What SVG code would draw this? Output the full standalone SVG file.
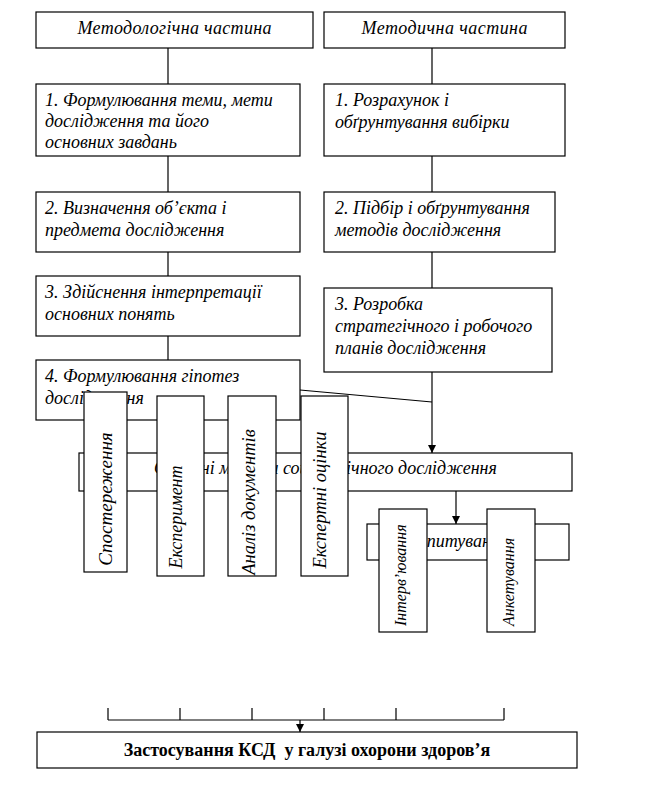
<svg xmlns="http://www.w3.org/2000/svg" width="649" height="793" viewBox="0 0 649 793">
<style>
.box{fill:#fff;stroke:#000;stroke-width:1.2}
.t{font-family:'Liberation Serif','DejaVu Serif','Times New Roman',serif;font-style:italic;font-size:18px;fill:#000}
.tv{font-family:'Liberation Serif','DejaVu Serif','Times New Roman',serif;font-style:italic;fill:#000}
.tb{font-family:'Liberation Serif','DejaVu Serif','Times New Roman',serif;font-weight:bold;font-size:18px;fill:#000}
.ln{fill:none;stroke:#000;stroke-width:1.2}
</style>
<defs>
<marker id="arr" viewBox="0 0 10 10" refX="10" refY="5" markerWidth="8" markerHeight="8" markerUnits="userSpaceOnUse" orient="auto">
<path d="M0,0 L10,5 L0,10 z" fill="#000"/>
</marker>
</defs>
<rect width="649" height="793" fill="#fff"/>
<g id="connectors">
<path class="ln" d="M168,48 V84 M168,156 V192 M168,252 V276 M168,336 V360"/>
<path class="ln" d="M432,48 V84 M432,156 V192 M432,252 V288"/>
<path class="ln" d="M432,372 V453" marker-end="url(#arr)"/>
<path class="ln" d="M300,390 L432,402"/>
<path class="ln" d="M456,491 V524" marker-end="url(#arr)"/>
<path class="ln" d="M108,708 V720 M180,708 V720 M252,708 V720 M324,708 V720 M396,708 V720 M504,708 V720 M108,720 H504"/>
<path class="ln" d="M300,720 V732" marker-end="url(#arr)"/>
</g>
<g id="n-methodology"><rect class="box" x="36" y="12" width="277" height="36"/><text class="t" x="174.5" y="34" text-anchor="middle" textLength="194" lengthAdjust="spacing">Методологічна частина</text></g>
<g id="n-methodic"><rect class="box" x="324" y="12" width="241" height="36"/><text class="t" x="444.5" y="34" text-anchor="middle" textLength="166" lengthAdjust="spacing">Методична частина</text></g>
<g id="n-l1"><rect class="box" x="36" y="84" width="264" height="72"/><text class="t"><tspan x="45" y="106">1. Формулювання теми, мети</tspan><tspan x="45" y="127">дослідження та його</tspan><tspan x="45" y="148">основних завдань</tspan></text></g>
<g id="n-l2"><rect class="box" x="36" y="192" width="264" height="60"/><text class="t"><tspan x="45" y="214">2. Визначення об’єкта і</tspan><tspan x="45" y="236">предмета дослідження</tspan></text></g>
<g id="n-l3"><rect class="box" x="36" y="276" width="264" height="60"/><text class="t"><tspan x="45" y="298">3. Здійснення інтерпретації</tspan><tspan x="45" y="320">основних понять</tspan></text></g>
<g id="n-l4"><rect class="box" x="36" y="360" width="264" height="60"/><text class="t"><tspan x="45" y="382">4. Формулювання гіпотез</tspan><tspan x="45" y="404">дослідження</tspan></text></g>
<g id="n-r1"><rect class="box" x="324" y="84" width="241" height="72"/><text class="t"><tspan x="335" y="106">1. Розрахунок і</tspan><tspan x="335" y="128">обґрунтування вибірки</tspan></text></g>
<g id="n-r2"><rect class="box" x="324" y="192" width="231" height="60"/><text class="t"><tspan x="335" y="214">2. Підбір і обґрунтування</tspan><tspan x="335" y="236">методів дослідження</tspan></text></g>
<g id="n-r3"><rect class="box" x="324" y="288" width="228" height="84"/><text class="t"><tspan x="335" y="310">3. Розробка</tspan><tspan x="335" y="332">стратегічного і робочого</tspan><tspan x="335" y="354">планів дослідження</tspan></text></g>
<g id="n-methods"><rect class="box" x="79" y="453" width="493" height="38"/><text class="t" x="325.5" y="474" text-anchor="middle">Основні методи соціологічного дослідження</text></g>
<g id="n-observation"><rect class="box" x="84" y="392" width="43" height="180"/><text class="tv" font-size="19" transform="translate(112,499) rotate(-90)" text-anchor="middle">Спостереження</text></g>
<g id="n-experiment"><rect class="box" x="157" y="396" width="47" height="180"/><text class="tv" font-size="18" transform="translate(182,517) rotate(-90)" text-anchor="middle">Експеримент</text></g>
<g id="n-documents"><rect class="box" x="228" y="396" width="48" height="180"/><text class="tv" font-size="18.5" transform="translate(255,502) rotate(-90)" text-anchor="middle">Аналіз документів</text></g>
<g id="n-expert"><rect class="box" x="301" y="396" width="47" height="180"/><text class="tv" font-size="18.5" transform="translate(326,500) rotate(-90)" text-anchor="middle">Експертні оцінки</text></g>
<g id="n-survey"><rect class="box" x="367" y="524" width="202" height="36"/><text class="t" x="461" y="547" text-anchor="middle">Опитування</text></g>
<g id="n-interview"><rect class="box" x="379" y="509" width="48" height="123"/><text class="tv" font-size="16" transform="translate(406,626) rotate(-90)">Інтерв’ювання</text></g>
<g id="n-questionnaire"><rect class="box" x="487" y="509" width="48" height="123"/><text class="tv" font-size="16" transform="translate(514,626) rotate(-90)">Анкетування</text></g>
<g id="n-application"><rect class="box" x="37" y="732" width="540" height="36"/><text class="tb" x="307" y="756" text-anchor="middle" xml:space="preserve">Застосування КСД  у галузі охорони здоров’я</text></g>
</svg>
